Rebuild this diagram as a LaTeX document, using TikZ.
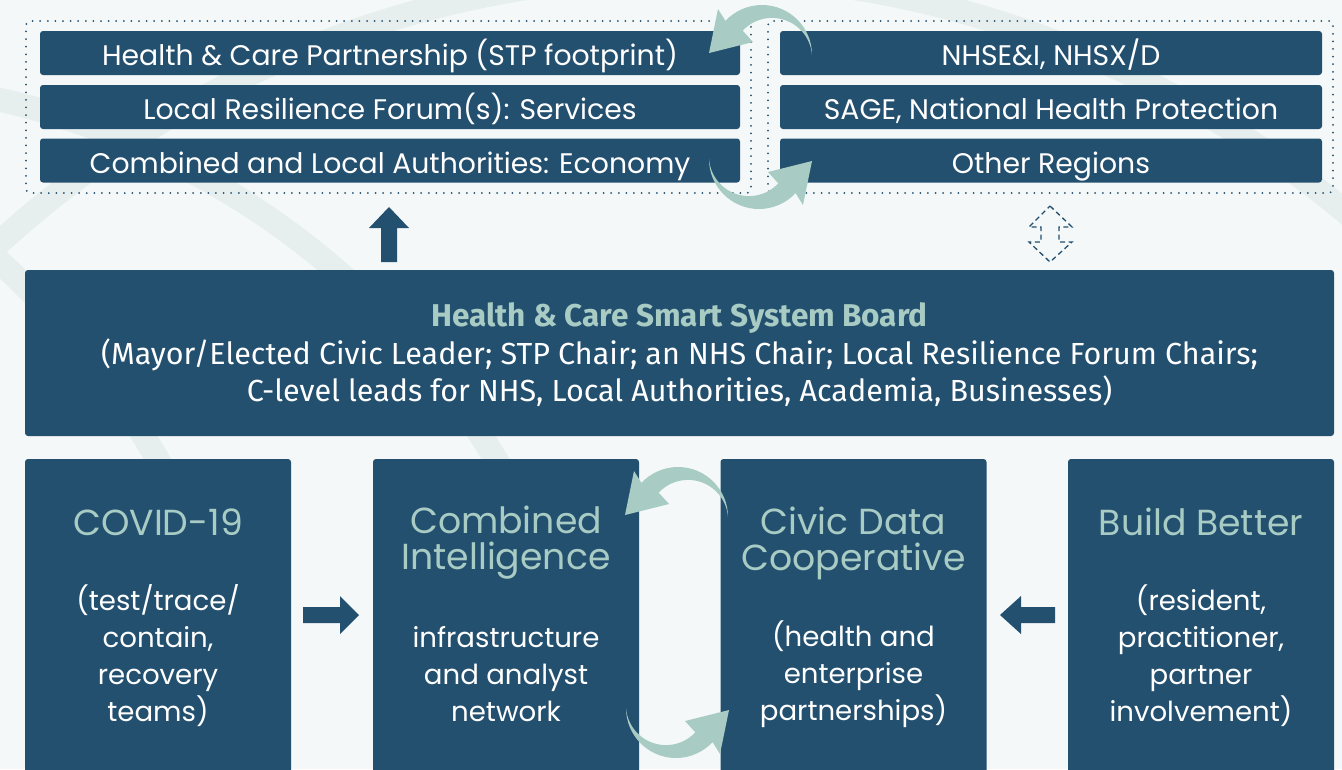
\documentclass[tikz,border=0pt]{standalone}
\usepackage{fontspec}
\setmainfont{Poppins}
\newfontfamily\boardfont{Fira Sans}
\definecolor{navy}{HTML}{245070}
\definecolor{tealc}{HTML}{A8CCC4}
\definecolor{bgc}{HTML}{F4F8F8}
\definecolor{bgarc}{HTML}{E7EFEE}
\tikzset{
  bar/.style={fill=navy, rounded corners=3pt, text=white, minimum height=44pt, font=\fontsize{28.3}{30}\selectfont, inner sep=0pt, text height=25pt, text depth=0pt},
  groupframe/.style={draw=navy, line width=2pt, line cap=round, dash pattern=on 0pt off 7.6pt, rounded corners=4pt, inner sep=0pt},
  boardbox/.style={fill=navy, rounded corners=3pt, inner sep=0pt},
  boardtxt/.style={text=white, align=center, inner sep=0pt, font=\boardfont\fontsize{30.5}{37.5}\selectfont},
  colbox/.style={fill=navy, rounded corners=3pt, inner sep=0pt, minimum width=266pt, minimum height=340pt},
  coltitle/.style={text=tealc, align=center, inner sep=0pt, font=\fontsize{36.2}{36}\selectfont},
  colbody/.style={text=white, align=center, inner sep=0pt, font=\fontsize{27.6}{37}\selectfont},
  blockarrow/.style={fill=navy},
  dasharrow/.style={draw=navy, line width=1.3pt, dash pattern=on 5pt off 3.5pt},
  curvA/.pic={\fill[tealc] (0,0) arc[start angle=0,end angle=-137,radius=50] -- (-94,-46) -- (-103,-2) -- (-59,-13) -- (-69.3,-24.35) arc[start angle=-137,end angle=-4.3,radius=40.1] -- cycle;},
  curvB/.pic={\fill[tealc] (0,0) arc[start angle=180,end angle=43,radius=50] -- (94,46) -- (103,2) -- (59,13) -- (69.3,24.35) arc[start angle=43,end angle=175.7,radius=40.1] -- cycle;}
}
\begin{document}
\begin{tikzpicture}[x=1pt,y=-1pt]
\useasboundingbox (0,0) rectangle (1342,769);
\clip (0,0) rectangle (1342,769);
\fill[bgc] (0,0) rectangle (1342,769);
% background arcs
\draw[bgarc, line width=24pt] (-175.8,864) circle[radius=784];
\draw[bgarc, line width=24pt] (-557,868) circle[radius=823];
\draw[bgarc, line width=24pt] (690,1000) circle[radius=1025];
% group frames
\node[groupframe, minimum width=725pt, minimum height=172pt] (gl) at (388.5,107) {};
\node[groupframe, minimum width=565pt, minimum height=172pt] (gr) at (1050.5,107) {};
% top bars
\node[bar, minimum width=700pt] (l1) at (390,53) {Health \& Care Partnership (STP footprint)};
\node[bar, minimum width=700pt] (l2) at (390,107) {Local Resilience Forum(s): Services};
\node[bar, minimum width=700pt] (l3) at (390,160.5) {Combined and Local Authorities: Economy};
\node[bar, minimum width=542pt] (r1) at (1051,53) {NHSE\&I, NHSX/D};
\node[bar, minimum width=542pt] (r2) at (1051,107) {SAGE, National Health Protection};
\node[bar, minimum width=542pt] (r3) at (1051,160.5) {Other Regions};
% board
\node[boardbox, minimum width=1309pt, minimum height=166pt] (board) at (679.5,353) {};
\node[boardtxt] (boardt) at (679.5,355) {{\color{tealc}\bfseries\fontsize{31.5}{37.5}\selectfont Health \& Care Smart System Board}\\
(Mayor/Elected Civic Leader; STP Chair; an NHS Chair; Local Resilience Forum Chairs;\\
C-level leads for NHS, Local Authorities, Academia, Businesses)};
% columns
\node[colbox] (covid) at (158,629) {};
\node[colbox] (comb) at (506,629) {};
\node[colbox] (civic) at (853.5,629) {};
\node[colbox] (build) at (1201,629) {};
\node[coltitle] (covidT) at (158,522) {COVID-19};
\node[coltitle] (combT) at (506,543) {Combined\\Intelligence};
\node[coltitle] (civicT) at (853.5,543) {Civic Data\\Cooperative};
\node[coltitle] (buildT) at (1201,522) {Build Better};
\node[colbody] (covidB) at (158,656) {(test/trace/\\contain,\\recovery\\teams)};
\node[colbody] (combB) at (506,674.5) {infrastructure\\and analyst\\network};
\node[colbody] (civicB) at (853.5,674.5) {(health and\\enterprise\\partnerships)};
\node[colbody] (buildB) at (1201,656) {(resident,\\practitioner,\\partner\\involvement)};
% block arrows
\fill[blockarrow] (381,262) -- (381,228) -- (369,228) -- (389,207) -- (409,228) -- (397,228) -- (397,262) -- cycle;
\fill[blockarrow] (303,607) -- (340,607) -- (340,596) -- (359,615) -- (340,634) -- (340,623) -- (303,623) -- cycle;
\fill[blockarrow] (1055,607) -- (1021,607) -- (1021,596) -- (1000,615) -- (1021,634) -- (1021,623) -- (1055,623) -- cycle;
% dashed double arrow
\draw[dasharrow] (1050,206) -- (1072,227) -- (1059,227) -- (1059,242) -- (1072,242) -- (1050,262) -- (1029,242) -- (1041,242) -- (1041,227) -- (1029,227) -- cycle;
% curved arrows
\pic at (812,55) {curvA};
\pic at (709,159) {curvB};
\pic at (728,517) {curvA};
\pic at (626,708) {curvB};
\end{tikzpicture}
\end{document}
